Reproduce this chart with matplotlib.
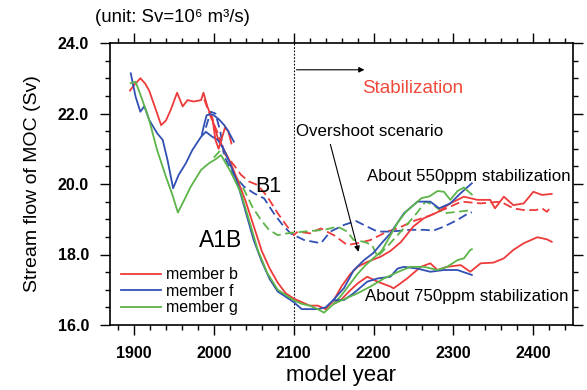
import matplotlib
matplotlib.use("Agg")
import matplotlib.pyplot as plt
from matplotlib.ticker import MultipleLocator, FormatStrFormatter

plt.rcParams['font.family'] = ['Liberation Sans', 'DejaVu Sans']

RED = "#ee3a3a"
BLUE = "#3150b4"
GREEN = "#5cb548"

# ---- member b (red) ----
b_main_x = [1895, 1900, 1908, 1914, 1919, 1926, 1934, 1940, 1946, 1954, 1961, 1967, 1975, 1984, 1987, 1992, 1998,
            2005, 2012, 2020, 2030, 2040, 2050, 2060, 2070, 2080, 2090, 2100, 2110, 2120, 2130, 2140, 2150, 2160,
            2171, 2180, 2192, 2209, 2221, 2234, 2250, 2263, 2280, 2296, 2313, 2330, 2346, 2352, 2363, 2375, 2388,
            2400, 2411, 2423]
b_main_y = [22.65, 22.8, 23.0, 22.85, 22.65, 22.2, 21.67, 21.8, 22.1, 22.59, 22.2, 22.38, 22.34, 22.38, 22.59,
            22.19, 21.85, 21.3, 21.0, 20.65, 20.1, 19.5, 18.8, 18.1, 17.6, 17.2, 16.9, 16.75, 16.65, 16.55, 16.55,
            16.45, 16.7, 17.1, 17.45, 17.65, 17.79, 17.94, 18.1, 18.35, 18.8, 19.03, 19.2, 19.45, 19.64, 19.55,
            19.55, 19.31, 19.64, 19.4, 19.45, 19.78, 19.69, 19.72]
b_750_x = [2150, 2159, 2171, 2180, 2192, 2205, 2221, 2225, 2242, 2259, 2271, 2280, 2292, 2309, 2321, 2334, 2350,
           2363, 2375, 2388, 2405, 2417, 2423]
b_750_y = [16.6, 16.71, 16.99, 17.18, 17.37, 17.23, 17.09, 17.04, 17.32, 17.65, 17.75, 17.56, 17.65, 17.7, 17.51,
           17.75, 17.77, 17.89, 18.13, 18.32, 18.49, 18.43, 18.36]
b_b1_x = [1988, 1996, 2005, 2013, 2025, 2034, 2044, 2055, 2067, 2080, 2092, 2100, 2105, 2120, 2134, 2150, 2167,
          2180, 2196, 2217, 2230, 2250, 2270, 2290, 2310, 2334, 2359, 2375, 2388, 2403, 2411, 2417, 2423]
b_b1_y = [22.4, 21.91, 21.44, 20.87, 20.54, 20.26, 20.07, 19.97, 19.64, 19.17, 18.79, 18.55, 18.65, 18.6, 18.74,
          18.55, 18.27, 18.32, 18.41, 18.65, 18.74, 18.95, 19.1, 19.3, 19.5, 19.45, 19.5, 19.31, 19.26, 19.26,
          19.31, 19.21, 19.38]
b_short_x = [1998, 2002, 2006, 2010, 2014, 2018, 2022]
b_short_y = [21.9, 21.25, 21.0, 21.3, 21.6, 21.5, 21.15]

# ---- member f (blue) ----
f_main_x = [1896, 1902, 1908, 1913, 1919, 1929, 1936, 1942, 1949, 1956, 1965, 1973, 1984, 1990, 1998,
            2005, 2012, 2020, 2030, 2040, 2050, 2060, 2070, 2080, 2090, 2100, 2110, 2120, 2130, 2140, 2150, 2163,
            2175, 2188, 2200, 2210, 2221, 2238, 2255, 2271, 2282, 2296, 2309, 2323]
f_main_y = [23.14, 22.48, 22.05, 22.21, 21.82, 21.44, 21.25, 20.68, 19.88, 20.26, 20.59, 20.96, 21.34, 21.48,
            21.34, 21.25, 21.0, 20.6, 20.0, 19.2, 18.4, 17.8, 17.3, 16.95, 16.8, 16.65, 16.45, 16.45, 16.45, 16.5,
            16.72, 17.05, 17.55, 17.84, 18.05, 18.32, 18.6, 19.17, 19.5, 19.5, 19.31, 19.45, 19.74, 20.02]
f_750_x = [2150, 2163, 2175, 2192, 2205, 2221, 2230, 2238, 2255, 2271, 2288, 2305, 2323]
f_750_y = [16.7, 16.71, 16.9, 17.23, 17.32, 17.37, 17.6, 17.65, 17.6, 17.51, 17.56, 17.56, 17.42]
f_b1_x = [1990, 1996, 2002, 2008, 2013, 2025, 2038, 2050, 2063, 2075, 2086, 2096, 2113, 2134, 2146, 2163, 2178,
          2192, 2205, 2221, 2246, 2263, 2275, 2288, 2305, 2315, 2323]
f_b1_y = [21.6, 22.05, 22.0, 21.5, 20.78, 20.26, 19.92, 19.74, 19.59, 19.17, 18.84, 18.6, 18.41, 18.32, 18.65,
          18.84, 18.95, 18.79, 18.65, 18.65, 18.7, 18.7, 18.68, 18.79, 18.98, 19.12, 19.2]
f_short_x = [1985, 1988, 1991, 1996, 2000, 2007, 2013, 2018, 2025]
f_short_y = [21.4, 21.7, 21.95, 21.98, 21.95, 21.82, 21.67, 21.5, 21.2]

# ---- member g (green) ----
g_main_x = [1896, 1902, 1909, 1919, 1929, 1940, 1948, 1955, 1963, 1971, 1984, 1994, 2002, 2009, 2021, 2034, 2044,
            2055, 2067, 2080, 2090, 2100, 2110, 2120, 2130, 2138, 2150, 2160, 2170, 2180, 2190, 2200, 2210, 2220,
            2230, 2240, 2250, 2260, 2270, 2280, 2288, 2296, 2305, 2313, 2323]
g_main_y = [22.86, 22.9, 22.48, 21.82, 20.96, 20.21, 19.7, 19.19, 19.55, 19.92, 20.4, 20.59, 20.7, 20.82, 20.35,
            19.74, 18.98, 18.13, 17.47, 17.0, 16.85, 16.7, 16.6, 16.55, 16.45, 16.35, 16.6, 16.85, 17.15, 17.45,
            17.7, 17.9, 18.1, 18.5, 18.9, 19.2, 19.4, 19.6, 19.65, 19.8, 19.78, 19.55, 19.8, 19.9, 19.7]
g_750_x = [2150, 2165, 2180, 2196, 2213, 2230, 2246, 2263, 2280, 2292, 2305, 2313, 2321, 2323]
g_750_y = [16.6, 16.75, 16.9, 17.09, 17.32, 17.5, 17.65, 17.65, 17.56, 17.65, 17.84, 17.89, 18.13, 18.15]
g_b1_x = [2000, 2008, 2015, 2025, 2038, 2048, 2059, 2069, 2080, 2092, 2113, 2138, 2155, 2167, 2175, 2188, 2198,
          2205, 2220, 2240, 2255, 2265, 2275, 2288, 2305, 2323]
g_b1_y = [20.75, 20.95, 20.87, 20.3, 19.83, 19.36, 18.98, 18.7, 18.55, 18.6, 18.65, 18.7, 18.79, 18.65, 18.41,
          18.36, 18.27, 17.94, 18.3, 18.8, 19.2, 19.5, 19.4, 19.17, 19.21, 19.26]

xticks = [1900, 2000, 2100, 2200, 2300, 2400]
yticks = [16.0, 18.0, 20.0, 22.0, 24.0]

fig = plt.figure(figsize=(5.87, 3.90), dpi=100)
ax = fig.add_axes([110/587, 1-325/390, (572.5-110)/587, (325-43)/390])

lw = 1.3
ax.plot(b_main_x, b_main_y, color=RED, lw=lw, label="member b", zorder=3)
ax.plot(f_main_x, f_main_y, color=BLUE, lw=lw, label="member f", zorder=3)
ax.plot(g_main_x, g_main_y, color=GREEN, lw=lw, label="member g", zorder=3)
ax.plot(b_750_x, b_750_y, color=RED, lw=lw, zorder=3)
ax.plot(f_750_x, f_750_y, color=BLUE, lw=lw, zorder=3)
ax.plot(g_750_x, g_750_y, color=GREEN, lw=lw, zorder=3)
ax.plot(b_short_x, b_short_y, color=RED, lw=lw, zorder=3)
ax.plot(f_short_x, f_short_y, color=BLUE, lw=lw, zorder=3)
ax.plot(b_b1_x, b_b1_y, color=RED, lw=lw, ls=(0, (5, 2.5)), zorder=2)
ax.plot(f_b1_x, f_b1_y, color=BLUE, lw=lw, ls=(0, (5, 2.5)), zorder=2)
ax.plot(g_b1_x, g_b1_y, color=GREEN, lw=lw, ls=(0, (5, 2.5)), zorder=2)

ax.axvline(2100, color="black", lw=0.8, ls=(0, (1.5, 1.5)), zorder=1)

ax.set_xlim(1870, 2449)
ax.set_ylim(16.0, 24.0)
ax.set_xticks(xticks)
ax.set_yticks(yticks)
ax.xaxis.set_minor_locator(MultipleLocator(20))
ax.yaxis.set_minor_locator(MultipleLocator(0.5))
ax.yaxis.set_major_formatter(FormatStrFormatter('%.1f'))
ax.tick_params(which='both', direction='out', top=True, right=True, width=1.0)
ax.tick_params(which='major', length=7.2, labelsize=11.5, pad=8)
ax.tick_params(which='minor', length=3.6)
for lab in ax.get_xticklabels() + ax.get_yticklabels():
    lab.set_fontweight('bold')
for s in ax.spines.values():
    s.set_linewidth(1.2)

ax.set_ylabel("Stream flow of MOC (Sv)", fontsize=14, labelpad=12)
ax.set_xlabel("model year", fontsize=16, labelpad=3)

fig.text(172/587, 1-17/390, "(unit: Sv=10\u2076 m\u00b3/s)", fontsize=13.4, ha='center', va='center')

ax.annotate("", xy=(2192, 23.24), xytext=(2100, 23.24),
            arrowprops=dict(arrowstyle="-|>", color="black", lw=0.8, mutation_scale=8))
ax.text(2249, 22.72, "Stabilization", color="#f04a3a", fontsize=13.6, ha='center', va='center')
ax.text(2102.5, 21.5, "Overshoot scenario", fontsize=12.2, ha='left', va='center')
ax.annotate("", xy=(2182, 18.0), xytext=(2145, 21.2),
            arrowprops=dict(arrowstyle="-|>", color="black", lw=0.8, mutation_scale=8))
ax.text(2068, 19.93, "B1", fontsize=15.5, ha='center', va='center')
ax.text(2008.75, 18.41, "A1B", fontsize=16.5, ha='center', va='center')
ax.text(2319, 20.2, "About 550ppm stabilization", fontsize=12.2, ha='center', va='center')
ax.text(2317, 16.8, "About 750ppm stabilization", fontsize=12.2, ha='center', va='center')

ax.legend(loc='upper left', bbox_to_anchor=(0.0, 0.245), frameon=False, fontsize=11.5,
          handlelength=2.5, handletextpad=0.3, labelspacing=0.1, borderaxespad=0.3)

fig.savefig("out.png", dpi=100)
